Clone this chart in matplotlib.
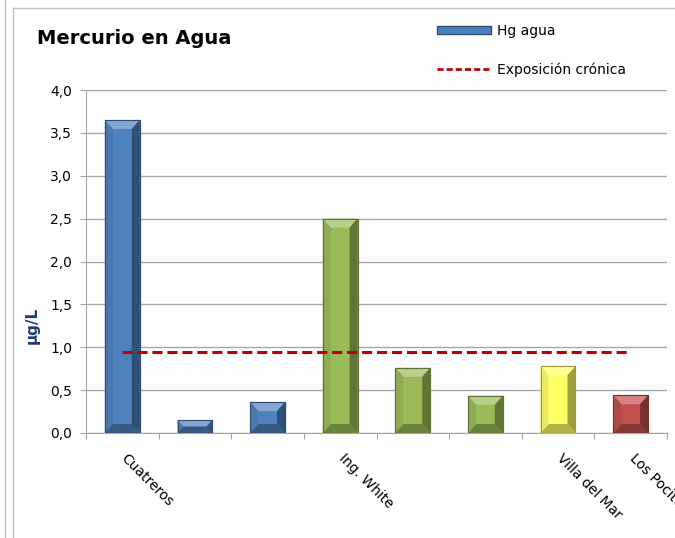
import numpy as np
import matplotlib.pyplot as plt
import matplotlib.colors as mcolors
from matplotlib.lines import Line2D
from matplotlib.patches import Patch, Polygon
from matplotlib.transforms import ScaledTranslation

# -------------------------------------------------
# Data
# -------------------------------------------------
sites = ["Cuatreros", "", "", "Ing. White", "", "", "Villa del Mar", "Los Pocitos"]
hg_agua = [3.65, 0.15, 0.36, 2.50, 0.76, 0.435, 0.78, 0.44]
bar_colors = ["#4F81BD", "#4F81BD", "#4F81BD", "#9BBB59", "#9BBB59", "#9BBB59",
              "#FFFF66", "#C0504D"]
exposicion_cronica = 0.94
y_ticks = [0.0, 0.5, 1.0, 1.5, 2.0, 2.5, 3.0, 3.5, 4.0]


def shade(color, f):
    # f > 0 lightens towards white, f < 0 darkens towards black
    c = np.array(mcolors.to_rgb(color))
    if f >= 0:
        return tuple(c + (1 - c) * f)
    return tuple(c * (1 + f))


# -------------------------------------------------
# Figure
# -------------------------------------------------
fig = plt.figure(figsize=(6.75, 5.38), dpi=100)
ax = fig.add_axes([86 / 675, 105 / 538, 581 / 675, 343 / 538])

x = np.arange(len(hg_agua))
ax.set_xlim(-0.5, len(hg_agua) - 0.5)
ax.set_ylim(0, 4.0)

bars = ax.bar(x, hg_agua, width=0.48, color=bar_colors,
              edgecolor=[shade(c, -0.35) for c in bar_colors],
              linewidth=0.8, zorder=3)

# bevel look: ~9 px bands, converted to data units
bev_x = 8 / 72.6
bev_y = 9 / 85.75
for rect, c in zip(bars, bar_colors):
    x0, y0 = rect.get_x(), rect.get_y()
    x1, y1 = x0 + rect.get_width(), y0 + rect.get_height()
    by = min(bev_y, rect.get_height() / 2)
    bx = min(bev_x, rect.get_width() / 2) * by / bev_y
    ix0, ix1, iy0, iy1 = x0 + bx, x1 - bx, y0 + by, y1 - by
    faces = [
        ([(x0, y1), (x1, y1), (ix1, iy1), (ix0, iy1)], shade(c, 0.3)),
        ([(x0, y0), (x1, y0), (ix1, iy0), (ix0, iy0)], shade(c, -0.3)),
        ([(x0, y0), (x0, y1), (ix0, iy1), (ix0, iy0)], shade(c, -0.08)),
        ([(x1, y0), (x1, y1), (ix1, iy1), (ix1, iy0)], shade(c, -0.38)),
    ]
    for pts, fc in faces:
        ax.add_patch(Polygon(pts, closed=True, facecolor=fc, edgecolor="none",
                             zorder=3.5))
    ax.add_patch(Polygon([(x0, y0), (x1, y0), (x1, y1), (x0, y1)], closed=True,
                         facecolor="none", edgecolor=shade(c, -0.4), lw=0.8,
                         zorder=3.6))

ax.plot([x[0], x[-1]], [exposicion_cronica, exposicion_cronica],
        color="#C00000", lw=2.2, ls=(0, (3.3, 1.6)), zorder=4)

ax.set_yticks(y_ticks)
ax.set_yticklabels([f"{v:.1f}".replace(".", ",") for v in y_ticks], fontsize=10)
ax.yaxis.grid(True, color="#A6A6A6", lw=1.0, zorder=0)

# tick marks on category boundaries, labels at bar centres
ax.set_xticks(np.arange(len(hg_agua) + 1) - 0.5)
ax.set_xticklabels([""] * (len(hg_agua) + 1))
ax.set_xticks(x, minor=True)
ax.set_xticklabels(sites, minor=True, rotation=-45, ha="left",
                   rotation_mode="anchor", fontsize=10)
ax.tick_params(axis="x", which="major", length=4, color="#A6A6A6")
ax.tick_params(axis="x", which="minor", length=0, pad=13)
ax.tick_params(axis="y", length=4, color="#A6A6A6", pad=6)
shift = ScaledTranslation(6 / 100, 0, fig.dpi_scale_trans)
for lbl in ax.get_xticklabels(minor=True):
    lbl.set_transform(lbl.get_transform() + shift)

for s in ["top", "right"]:
    ax.spines[s].set_visible(False)
for s in ["left", "bottom"]:
    ax.spines[s].set_color("#A6A6A6")

fig.text(32 / 675, 1 - 325 / 538, "µg/L", rotation=90, fontsize=11,
         fontweight="bold", color="#1F3A7A", ha="center", va="center")

fig.text(37 / 675, 1 - 38 / 538, "Mercurio en Agua", fontsize=14,
         fontweight="bold", ha="left", va="center")

handles = [Patch(facecolor="#4F81BD", edgecolor="#2C4D75"),
           Line2D([0], [0], color="#C00000", lw=2.0, ls=(0, (2.2, 1.1)))]
fig.legend(handles, ["Hg agua", "Exposición crónica"], loc="upper left",
           bbox_to_anchor=(437 / 675, 1 - 24 / 538), frameon=False,
           fontsize=10, handlelength=3.9, handleheight=0.5, handletextpad=0.4,
           labelspacing=1.75, borderpad=0, borderaxespad=0)

# chart frame
fig.add_artist(Line2D([5.5 / 675, 5.5 / 675], [0, 1], color="#BFBFBF", lw=1))
fig.add_artist(Line2D([13 / 675, 13 / 675], [0, 1 - 8 / 538], color="#BFBFBF", lw=1))
fig.add_artist(Line2D([13 / 675, 1], [1 - 8 / 538, 1 - 8 / 538], color="#BFBFBF", lw=1))

plt.savefig("out.png", dpi=100)
plt.close()
